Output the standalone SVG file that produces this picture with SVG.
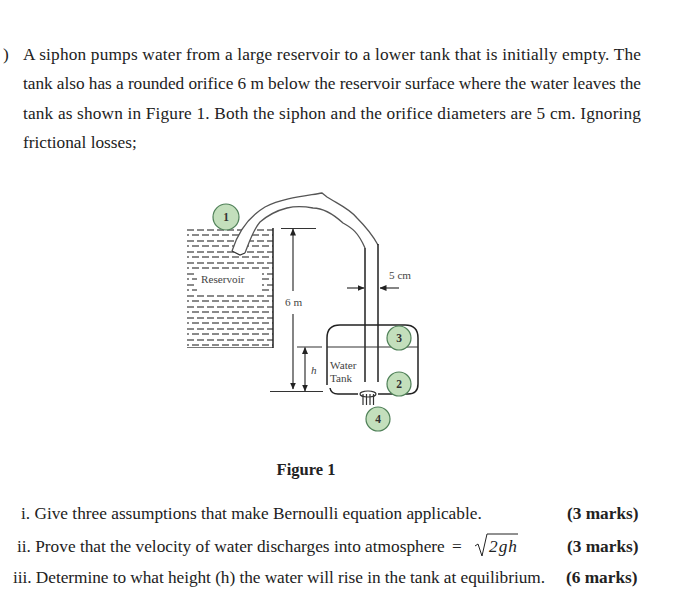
<svg xmlns="http://www.w3.org/2000/svg" width="700" height="606" viewBox="0 0 700 606">
<defs>
<pattern id="w" width="10" height="11" patternUnits="userSpaceOnUse" x="187" y="229"><rect x="0" y="0" width="7" height="2" fill="#8a8a8a"/><rect x="5" y="5" width="7" height="2" fill="#8a8a8a"/><rect x="-5" y="5" width="7" height="2" fill="#8a8a8a"/></pattern>
<marker id="a" markerWidth="7" markerHeight="6" refX="6.5" refY="3" orient="auto-start-reverse" markerUnits="userSpaceOnUse"><path d="M0 0L7 3L0 6z" fill="#222"/></marker>
</defs>
<style>
text{font-family:"Liberation Serif",serif;fill:#222}
.b{font-size:17.3px}
.m{font-weight:bold;font-size:17.3px}
.s{font-size:11.2px;fill:#444}
.l{fill:none;stroke:#333;stroke-width:1.2}
.p{fill:none;stroke:#555;stroke-width:1.3}
.t{fill:none;stroke:#222;stroke-width:1.5}
.c{fill:#c3dfbc;stroke:#4f8058;stroke-width:1.2}
.n{font-size:11.5px;text-anchor:middle;font-weight:bold;fill:#333}
</style>
<rect width="700" height="606" fill="#fff"/>
<g id="question">
<text class="b" x="3" y="60">)</text>
<text class="b" x="23" y="60" textLength="618">A siphon pumps water from a large reservoir to a lower tank that is initially empty. The</text>
<text class="b" x="23" y="89" textLength="618">tank also has a rounded orifice 6 m below the reservoir surface where the water leaves the</text>
<text class="b" x="23" y="119" textLength="618">tank as shown in Figure 1. Both the siphon and the orifice diameters are 5 cm. Ignoring</text>
<text class="b" x="23" y="148">frictional losses;</text>
</g>
<g id="reservoir">
<rect x="187" y="228" width="86" height="120" fill="url(#w)"/>
<path d="M187 347.500H273" stroke="#777" stroke-width="1.200"/>
<rect x="197" y="270" width="65" height="21" fill="#fff"/>
<path class="t" d="M273 228V348"/>
<text class="s" x="201" y="283">Reservoir</text>
</g>
<g id="siphon">
<path d="M232 251C238 232 250 216 265 207C283 198 305 196 322 193L327 197C338 204 350 209 357 218C365 226 372 234 378 245H365C358 232 352 228 343 223C332 213 322 208 313 208C303 206 295 206 287 208C275 211 267 216 260 222C253 230 249 243 245 253L240 255Z" fill="#fff" stroke="none"/>
<path class="p" d="M232 251C238 232 250 216 265 207C283 198 305 196 322 193L327 197C338 204 350 209 357 218C365 226 372 234 378 245"/>
<path class="p" d="M245 253C249 243 253 230 260 222C267 216 275 211 287 208C295 206 303 206 313 208C322 208 332 213 343 223C352 228 358 232 365 248"/>
<path class="l" d="M232 251L240 255L245 253"/>
<path class="t" d="M365 248V382M378 244V382"/>
</g>
<g id="tank">
<path class="t" d="M327 385V338Q327 325 340 325H405Q418 325 418 338V384Q418 394 408 394H378M358 394H338Q331 394 330 388"/>
<path class="l" d="M327 347H418"/>
<ellipse cx="368" cy="394" rx="8" ry="3" fill="none" stroke="#333" stroke-width="1.200"/>
<path class="l" d="M363 394V405M366.500 394V405M370 394V405M373.500 394V405"/>
<text class="s" x="330" y="369">Water</text>
<text class="s" x="330" y="382">Tank</text>
</g>
<g id="connectors">
<path class="l" d="M281 228.500H316M270 391.500H323M297 347H322"/>
<path class="l" d="M293 229V291" marker-start="url(#a)"/>
<path class="l" d="M293 314V389" marker-end="url(#a)"/>
<path class="l" d="M305 347.500V391" marker-start="url(#a)" marker-end="url(#a)"/>
<path class="l" d="M347 288H364" marker-end="url(#a)"/>
<path class="l" d="M399 288H380" marker-end="url(#a)"/>
<text class="s" x="285" y="306">6 m</text>
<text class="s" x="311" y="374" font-style="italic">h</text>
<text class="s" x="389" y="279">5 cm</text>
</g>
<g id="node1"><circle class="c" cx="226" cy="217" r="13"/><text class="n" x="226" y="221">1</text></g>
<g id="node2"><circle class="c" cx="399" cy="384" r="12"/><text class="n" x="399" y="388">2</text></g>
<g id="node3"><circle class="c" cx="399" cy="338" r="12"/><text class="n" x="399" y="342">3</text></g>
<g id="node4"><circle class="c" cx="378" cy="419" r="12"/><text class="n" x="378" y="423">4</text></g>
<g id="caption"><text x="306" y="475" text-anchor="middle" font-weight="bold" font-size="16.5">Figure 1</text></g>
<g id="items">
<text class="b" x="21" y="519">i. Give three assumptions that make Bernoulli equation applicable.</text>
<text class="m" x="567" y="519">(3 marks)</text>
<text class="b" x="17" y="552">ii. Prove that the velocity of water discharges into atmosphere</text>
<text class="b" x="452" y="552">=</text>
<path d="M475 546L478 544L482 556L487 534H518" fill="none" stroke="#222" stroke-width="1"/>
<text class="b" x="489" y="552" font-style="italic" textLength="28">2gh</text>
<text class="m" x="567" y="552">(3 marks)</text>
<text class="b" x="13" y="583" textLength="532">iii. Determine to what height (h) the water will rise in the tank at equilibrium.</text>
<text class="m" x="566" y="583">(6 marks)</text>
</g>
</svg>
